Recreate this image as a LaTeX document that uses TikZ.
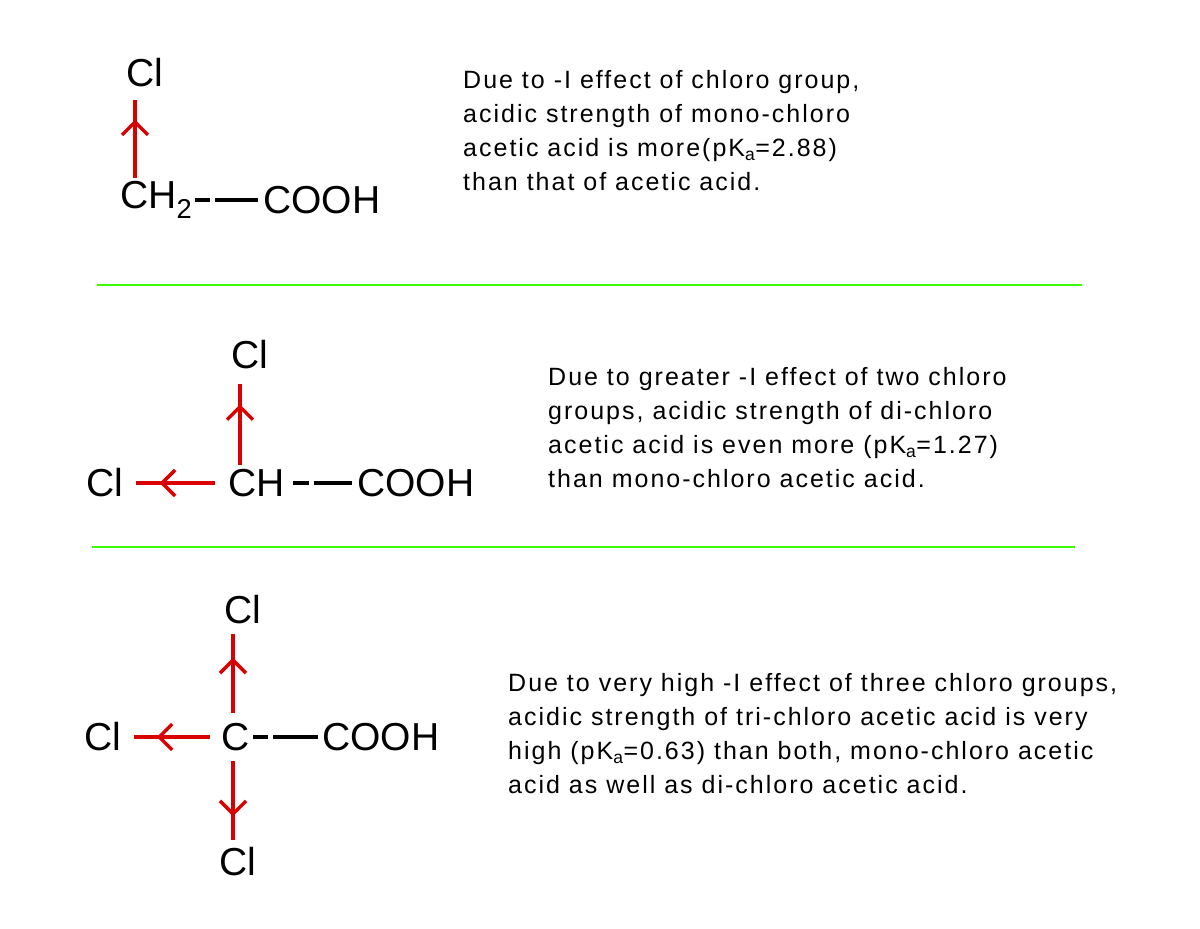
\documentclass[tikz,border=0pt]{standalone}
\usepackage{fontspec}
\setmainfont{Liberation Sans}
\newfontfamily\descfont[LetterSpace=8]{Liberation Sans}
\usetikzlibrary{arrows.meta,decorations.markings}
\begin{document}
\begin{tikzpicture}[x=1pt,y=-1pt,
  chem/.style={inner sep=0pt,font=\fontsize{39}{44}\selectfont},
  desc/.style={inner sep=0pt,anchor=north west,align=left,font=\descfont\fontsize{25}{34}\selectfont},
  ind/.style={red!85!black,line width=3.4pt,decoration={markings,mark=at position #1 with {\arrow{Straight Barb[length=13pt,width=26pt,line width=3.4pt]}}},postaction={decorate}},
  bond/.style={line width=3.6pt},
  sep/.style={green!70!lime,line width=2pt}]
\useasboundingbox[fill=white] (0,0) rectangle (1200,929);
% panel 1
\node[chem] (cl1) at (145,73) {Cl};
\node[chem,anchor=west] (ch2) at (120,200) {CH\textsubscript{2}};
\node[chem,anchor=west] (cooh1) at (263,200) {COOH};
\coordinate (a1) at (135,178); \coordinate (b1) at (135,100);
\draw[ind=0.75] (a1) -- (b1);
\coordinate (d1a) at (195,200); \coordinate (d1b) at (210,200);
\coordinate (d1c) at (215,200); \coordinate (d1d) at (258,200);
\draw[bond] (d1a) -- (d1b); \draw[bond] (d1c) -- (d1d);
\node[desc] (t1) at (463,70) {Due to -I effect of chloro group,\\acidic strength of mono-chloro\\acetic acid is more(pK\textsubscript{a}=2.88)\\than that of acetic acid.};
\coordinate (g1a) at (97,285); \coordinate (g1b) at (1082,285);
\draw[sep] (g1a) -- (g1b);
% panel 2
\node[chem] (cl2t) at (250,355) {Cl};
\node[chem,anchor=west] (ch) at (228,483) {CH};
\node[chem,anchor=west] (cl2l) at (86,483) {Cl};
\node[chem,anchor=west] (cooh2) at (357,483) {COOH};
\coordinate (a2) at (240,465); \coordinate (b2) at (240,384);
\draw[ind=0.75] (a2) -- (b2);
\coordinate (a3) at (215,483); \coordinate (b3) at (136,483);
\draw[ind=0.7] (a3) -- (b3);
\coordinate (d2a) at (293,483); \coordinate (d2b) at (309,483);
\coordinate (d2c) at (314,483); \coordinate (d2d) at (352,483);
\draw[bond] (d2a) -- (d2b); \draw[bond] (d2c) -- (d2d);
\node[desc] (t2) at (548,367) {Due to greater -I effect of two chloro\\groups, acidic strength of di-chloro\\acetic acid is even  more (pK\textsubscript{a}=1.27)\\than mono-chloro acetic acid.};
\coordinate (g2a) at (92,547); \coordinate (g2b) at (1075,547);
\draw[sep] (g2a) -- (g2b);
% panel 3
\node[chem] (cl3t) at (243,610) {Cl};
\node[chem,anchor=west] (c) at (221,737) {C};
\node[chem,anchor=west] (cl3l) at (84,737) {Cl};
\node[chem,anchor=west] (cooh3) at (322,737) {COOH};
\node[chem] (cl3b) at (238,862) {Cl};
\coordinate (a4) at (233,713); \coordinate (b4) at (233,634);
\draw[ind=0.7] (a4) -- (b4);
\coordinate (a5) at (210,737); \coordinate (b5) at (134,737);
\draw[ind=0.7] (a5) -- (b5);
\coordinate (a6) at (233,761); \coordinate (b6) at (233,840);
\draw[ind=0.7] (a6) -- (b6);
\coordinate (d3a) at (253,737); \coordinate (d3b) at (268,737);
\coordinate (d3c) at (273,737); \coordinate (d3d) at (318,737);
\draw[bond] (d3a) -- (d3b); \draw[bond] (d3c) -- (d3d);
\node[desc] (t3) at (508,673) {Due to very high -I effect of three chloro groups,\\acidic strength of tri-chloro acetic acid is very\\high (pK\textsubscript{a}=0.63) than both, mono-chloro acetic\\acid as well as di-chloro acetic acid.};
\end{tikzpicture}
\end{document}
